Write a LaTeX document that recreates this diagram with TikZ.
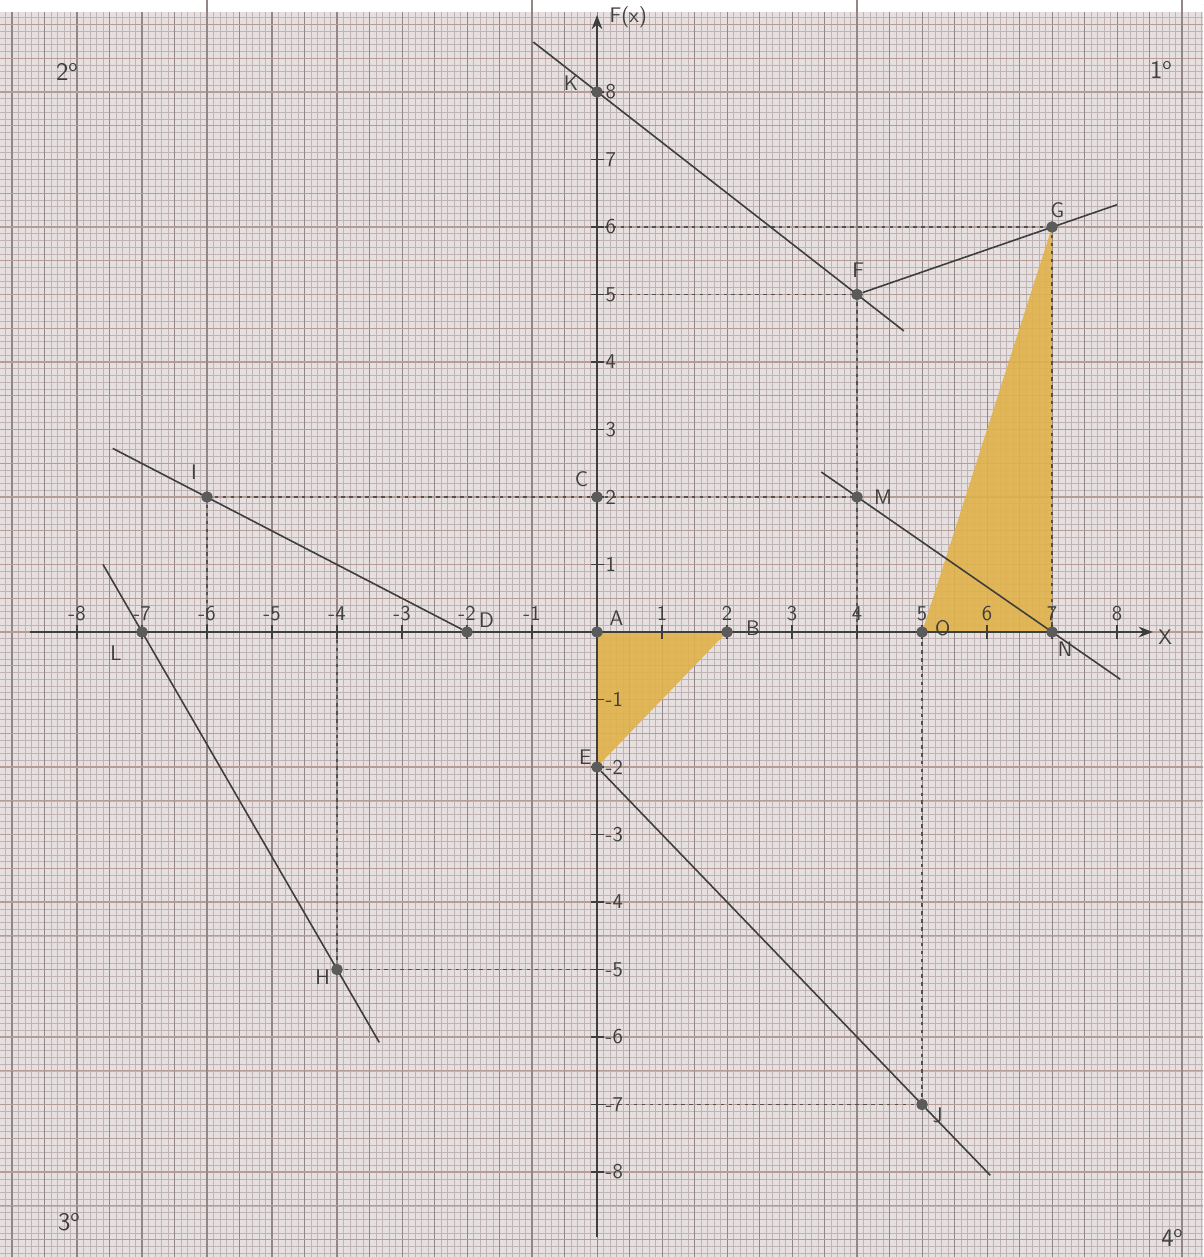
\documentclass[tikz,border=0pt]{standalone}
\usetikzlibrary{arrows.meta}
\definecolor{paper}{HTML}{E6E0E0}
\definecolor{minorc}{HTML}{BFB3B3}
\definecolor{majorv}{HTML}{928686}
\definecolor{majorh}{HTML}{B59C94}
\definecolor{pencil}{HTML}{3E3E3E}
\definecolor{ochre}{HTML}{E0B24A}
\tikzset{
  pt/.style={circle, fill=pencil!85, inner sep=0pt, minimum size=0.22cm},
  pencilline/.style={draw=pencil, line width=0.9pt},
  axisline/.style={draw=pencil, line width=1.4pt},
  proj/.style={draw=pencil!90, line width=1.1pt, dash pattern=on 2pt off 2.5pt},
  lbl/.style={text=pencil, font=\sffamily\large, inner sep=1pt},
  tri/.style={fill=ochre, fill opacity=0.9}
}
\begin{document}
\begin{tikzpicture}[x=1.3cm,y=1.35cm]
\useasboundingbox (-9.185,-9.259) rectangle (9.323,9.363);
\begin{scope}
\clip (-9.185,-9.259) rectangle (9.323,9.363);
\fill[paper] (-9.185,-9.259) rectangle (9.323,9.363);
\draw[minorc, line width=0.3pt, step=0.1] (-9.3,-9.3) grid (9.4,9.4);
\foreach \i in {-19,-18,...,19} {
  \draw[majorv, line width=0.6pt] (\i/2,-9.3) -- (\i/2,9.4);
}
\foreach \j in {-19,-18,...,19} {
  \draw[majorh, line width=0.6pt] (-9.3,\j/2) -- (9.4,\j/2);
}
\foreach \i in {-6,-1,4,9} {
  \draw[majorv, line width=0.7pt] (\i,-9.3) -- (\i,9.4);
}
\fill[white] (-9.185,9.185) rectangle (9.323,9.4);
\foreach \i in {-6,-1,4,9} {
  \draw[majorv, line width=0.9pt] (\i,9.185) -- (\i,9.4);
}
\end{scope}

% points
\node[pt] (A) at (0,0) {};
\node[pt] (B) at (2,0) {};
\node[pt] (C) at (0,2) {};
\node[pt] (D) at (-2,0) {};
\node[pt] (E) at (0,-2) {};
\node[pt] (F) at (4,5) {};
\node[pt] (G) at (7,6) {};
\node[pt] (H) at (-4,-5) {};
\node[pt] (I) at (-6,2) {};
\node[pt] (J) at (5,-7) {};
\node[pt] (K) at (0,8) {};
\node[pt] (L) at (-7,0) {};
\node[pt] (M) at (4,2) {};
\node[pt] (N) at (7,0) {};
\node[pt] (O) at (5,0) {};

% helper coordinates
\coordinate (y6) at (0,6);
\coordinate (y5) at (0,5);
\coordinate (ym5) at (0,-5);
\coordinate (ym7) at (0,-7);
\coordinate (x4) at (4,0);
\coordinate (xm6) at (-6,0);
\coordinate (xm4) at (-4,0);
\coordinate (k1) at (-0.98,8.74);
\coordinate (k2) at (4.72,4.46);
\coordinate (g2) at (8.0,6.33);
\coordinate (i1) at (-7.45,2.72);
\coordinate (l1) at (-7.6,1.0);
\coordinate (l2) at (-3.35,-6.08);
\coordinate (j2) at (6.05,-8.05);
\coordinate (m1) at (3.45,2.37);
\coordinate (m2) at (8.05,-0.7);
\coordinate (xa) at (-8.72,0);
\coordinate (xb) at (8.55,0);
\coordinate (ya) at (0,-8.96);
\coordinate (yb) at (0,9.14);

% filled triangles
\fill[tri] (A.center) -- (B.center) -- (E.center) -- cycle;
\fill[tri] (O.center) -- (G.center) -- (N.center) -- cycle;

% projection lines
\draw[proj] (y6) -- (G.center);
\draw[proj] (G.center) -- (N.center);
\draw[proj] (y5) -- (F.center);
\draw[proj] (F.center) -- (x4);
\draw[proj] (I.center) -- (C.center);
\draw[proj] (C.center) -- (M.center);
\draw[proj] (I.center) -- (xm6);
\draw[proj] (xm4) -- (H.center);
\draw[proj] (H.center) -- (ym5);
\draw[proj] (J.center) -- (ym7);
\draw[proj] (J.center) -- (O.center);

% axes
\draw[axisline, -{Stealth[length=8pt,width=6pt]}] (xa) -- (xb);
\draw[axisline, -{Stealth[length=8pt,width=6pt]}] (ya) -- (yb);
\foreach \i in {-8,...,-1,1,2,...,8} {
  \draw[pencil, line width=0.9pt] (\i,-0.1) -- (\i,0.1);
  \draw[pencil, line width=0.9pt] (-0.1,\i) -- (0.1,\i);
}
\foreach \i in {-8,...,-1,1,2,...,8} {
  \node[lbl] (xt\i) at (\i,0.27) {\i};
}
\foreach \i in {-8,...,-1,1,2,...,8} {
  \node[lbl, anchor=west] (yt\i) at (0.1,\i) {\i};
}
\node[lbl] (Xlab) at (8.74,-0.07) {X};
\node[lbl] (Flab) at (0.48,9.11) {F(x)};

% graph lines
\draw[pencilline] (k1) -- (k2);
\draw[pencilline] (F) -- (g2);
\draw[pencilline] (i1) -- (D);
\draw[pencilline] (l1) -- (l2);
\draw[pencilline] (E) -- (j2);
\draw[pencilline] (m1) -- (m2);

% redraw points on top
\foreach \p in {A,B,C,D,E,F,G,H,I,J,K,L,M,N,O} {
  \fill[pencil!85] (\p.center) circle (0.085);
}

% point labels
\node[lbl] (lK) at (-0.4,8.13) {K};
\node[lbl] (lF) at (4.02,5.36) {F};
\node[lbl] (lG) at (7.08,6.25) {G};
\node[lbl] (lC) at (-0.24,2.26) {C};
\node[lbl] (lI) at (-6.2,2.37) {I};
\node[lbl] (lM) at (4.4,2.0) {M};
\node[lbl] (lA) at (0.3,0.2) {A};
\node[lbl] (lB) at (2.4,0.05) {B};
\node[lbl] (lD) at (-1.7,0.18) {D};
\node[lbl] (lO) at (5.32,0.06) {O};
\node[lbl] (lN) at (7.2,-0.26) {N};
\node[lbl] (lL) at (-7.4,-0.32) {L};
\node[lbl] (lE) at (-0.18,-1.85) {E};
\node[lbl] (lH) at (-4.22,-5.12) {H};
\node[lbl] (lJ) at (5.24,-7.16) {J};

% quadrant labels
\node[lbl, font=\sffamily\Large] (q2) at (-8.15,8.3) {2\textsuperscript{o}};
\node[lbl, font=\sffamily\Large] (q1) at (8.68,8.33) {1\textsuperscript{o}};
\node[lbl, font=\sffamily\Large] (q3) at (-8.12,-8.74) {3\textsuperscript{o}};
\node[lbl, font=\sffamily\Large] (q4) at (8.85,-8.98) {4\textsuperscript{o}};
\end{tikzpicture}
\end{document}
